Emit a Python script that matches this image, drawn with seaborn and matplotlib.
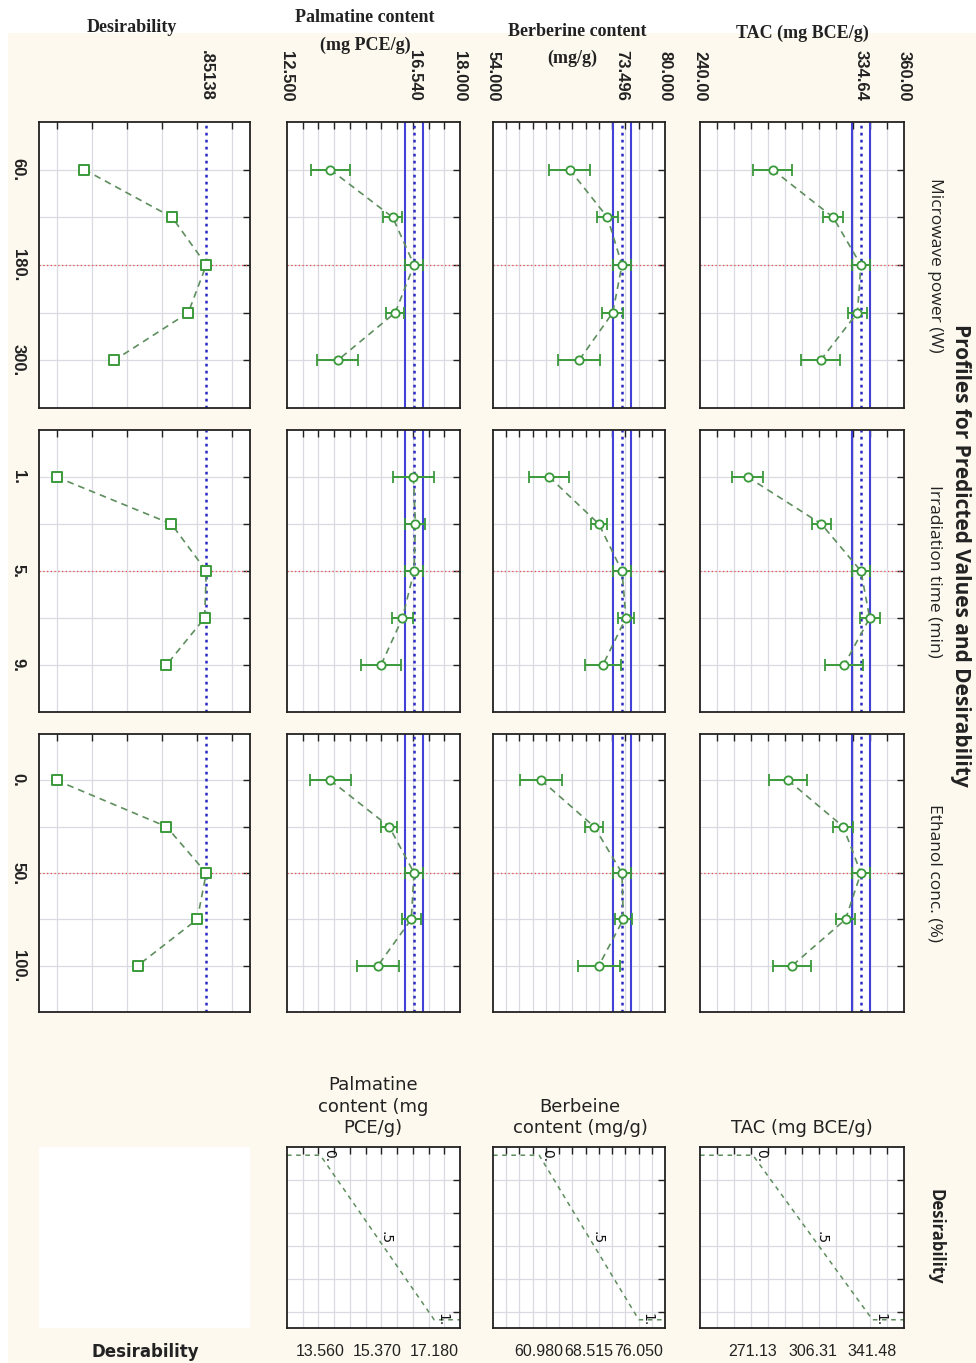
import numpy as np
import pandas as pd
import seaborn as sns
import matplotlib.pyplot as plt
from matplotlib.patches import Rectangle

# factor levels (the chart is rotated: factors run down, responses run across)
power_levels = [60, 120, 180, 240, 300]
time_levels = [1, 3, 5, 7, 9]
ethanol_levels = [0, 25, 50, 75, 100]
factor_names = ["Microwave power (W)", "Irradiation time (min)", "Ethanol conc. (%)"]
factor_ticklabels = [["60.", "180.", "300."], ["1.", "5.", "9."], ["0.", "50.", "100."]]
current_levels = [180, 5, 50]

# TAC (mg BCE/g)
tac_power = [282.7, 318.3, 334.64, 332.6, 310.9]
tac_power_err = [11.7, 6.0, 5.4, 5.6, 11.3]
tac_time = [268.0, 311.4, 334.64, 339.8, 324.8]
tac_time_err = [9.3, 5.8, 5.4, 5.8, 11.3]
tac_ethanol = [291.9, 324.2, 334.64, 325.6, 294.2]
tac_ethanol_err = [11.2, 5.9, 5.4, 5.4, 11.2]
tac_current = 334.64
tac_ci = [329.2, 340.0]

# Berberine content (mg/g)
ber_power = [65.6, 71.3, 73.496, 72.1, 67.0]
ber_power_err = [3.1, 1.55, 1.36, 1.6, 3.1]
ber_time = [62.5, 70.0, 73.496, 74.1, 70.6]
ber_time_err = [3.0, 1.2, 1.36, 1.2, 2.7]
ber_ethanol = [61.3, 69.3, 73.496, 73.7, 70.0]
ber_ethanol_err = [3.2, 1.4, 1.36, 1.3, 3.2]
ber_current = 73.496
ber_ci = [72.14, 74.86]

# Palmatine content (mg PCE/g)
pal_power = [13.88, 15.86, 16.54, 15.94, 14.11]
pal_power_err = [0.62, 0.30, 0.29, 0.28, 0.66]
pal_time = [16.52, 16.58, 16.54, 16.17, 15.49]
pal_time_err = [0.64, 0.32, 0.29, 0.33, 0.64]
pal_ethanol = [13.88, 15.75, 16.54, 16.45, 15.39]
pal_ethanol_err = [0.64, 0.26, 0.29, 0.30, 0.66]
pal_current = 16.54
pal_ci = [16.25, 16.83]

# overall desirability
des_power = [0.158, 0.657, 0.85138, 0.749, 0.328]
des_time = [0.0, 0.653, 0.85138, 0.842, 0.625]
des_ethanol = [0.0, 0.625, 0.85138, 0.80, 0.461]
des_current = 0.85138

# desirability functions: low / mid / high response values
tac_limits = [271.13, 306.31, 341.48]
ber_limits = [60.98, 68.515, 76.05]
pal_limits = [13.56, 15.37, 17.18]
tac_limit_labels = ["271.13", "306.31", "341.48"]
ber_limit_labels = ["60.980", "68.515", "76.050"]
pal_limit_labels = ["13.560", "15.370", "17.180"]

sns.set_style("white")
plt.rcParams['font.family'] = ['DejaVu Sans']

W, H = 976, 1363
CREAM = '#fdf9ee'
GREEN = '#3a9a3a'
LINEG = '#5e8e5e'
BLUE = '#4242d8'
BLUED = '#2a2ac0'
RED = '#f04a4a'
GRID = '#dadae2'


def rect(x0, y0, x1, y1):
    return [x0 / W, 1 - y1 / H, (x1 - x0) / W, (y1 - y0) / H]


def ftext(x, y, s, **kw):
    fig.text(x / W, 1 - y / H, s, **kw)


def style_axes(ax, xlim, xticks, ylim, yticks):
    ax.set_facecolor('white')
    ax.set_xlim(xlim)
    ax.set_ylim(ylim)
    ax.set_xticks(xticks)
    ax.set_yticks(yticks)
    ax.grid(True, color=GRID, lw=0.9)
    ax.set_axisbelow(True)
    ax.tick_params(direction='in', length=5, width=1, top=True, right=True,
                   labelbottom=False, labelleft=False, color='#222222')
    for s in ax.spines.values():
        s.set_color('#222222')
        s.set_linewidth(1.3)
    ax.set_xlabel('')
    ax.set_ylabel('')


fig = plt.figure(figsize=(W / 100, H / 100), dpi=100)
fig.patch.set_facecolor('white')
fig.add_artist(Rectangle((8 / W, 0), 1, 1 - 33 / H, transform=fig.transFigure,
                         facecolor=CREAM, edgecolor='none', zorder=-10))

rows = [(122, 408), (430, 712), (734, 1012)]
levels_all = [power_levels, time_levels, ethanol_levels]
steps = [60, 2, 25]

columns = [
    dict(x=(700, 904), lim=(240, 360), ticks=np.arange(250, 351, 10),
         vals=[tac_power, tac_time, tac_ethanol],
         errs=[tac_power_err, tac_time_err, tac_ethanol_err],
         cur=tac_current, ci=tac_ci,
         top=[(240, "240.00"), (tac_current, "334.64"), (360, "360.00")]),
    dict(x=(493, 665), lim=(54, 80), ticks=np.arange(56, 79, 2),
         vals=[ber_power, ber_time, ber_ethanol],
         errs=[ber_power_err, ber_time_err, ber_ethanol_err],
         cur=ber_current, ci=ber_ci,
         top=[(54, "54.000"), (ber_current, "73.496"), (80, "80.000")]),
    dict(x=(287, 460), lim=(12.5, 18), ticks=np.arange(13, 17.6, 0.5),
         vals=[pal_power, pal_time, pal_ethanol],
         errs=[pal_power_err, pal_time_err, pal_ethanol_err],
         cur=pal_current, ci=pal_ci,
         top=[(12.5, "12.500"), (pal_current, "16.540"), (18, "18.000")]),
    dict(x=(39, 250), lim=(-0.1, 1.1), ticks=[0, 0.2, 0.4, 0.6, 0.8, 1.0],
         vals=[des_power, des_time, des_ethanol],
         errs=[None, None, None],
         cur=des_current, ci=None,
         top=[(des_current, ".85138")]),
]

for ci_, col in enumerate(columns):
    for ri, (y0, y1) in enumerate(rows):
        ax = fig.add_axes(rect(col['x'][0], y0, col['x'][1], y1))
        lv = levels_all[ri]
        st = steps[ri]
        df = pd.DataFrame({'level': lv, 'value': col['vals'][ri]})
        ax.axhline(current_levels[ri], color=RED, lw=0.9, ls=(0, (1, 2)), zorder=2)
        if col['ci'] is not None:
            for c in col['ci']:
                ax.axvline(c, color=BLUE, lw=1.5, zorder=2)
        ax.axvline(col['cur'], color=BLUED, lw=1.8, ls=(0, (1.1, 1.7)), zorder=2)
        sns.lineplot(data=df, x='value', y='level', sort=False, estimator=None,
                     color=LINEG, lw=1.2, linestyle=(0, (4, 3)), ax=ax, zorder=3)
        if col['errs'][ri] is not None:
            ax.errorbar(df['value'], df['level'], xerr=col['errs'][ri], fmt='o', ms=6,
                        mfc='white', mec=GREEN, mew=1.3, ecolor=GREEN, elinewidth=1.4,
                        capsize=4, capthick=1.4, zorder=4)
        else:
            sns.scatterplot(data=df, x='value', y='level', marker='s', s=60,
                            facecolor='white', edgecolor=GREEN, linewidth=1.4,
                            ax=ax, zorder=4)
        style_axes(ax, col['lim'], col['ticks'], (lv[-1] + st, lv[0] - st), lv)

        if ri == 0:
            for v, s in col['top']:
                ax.annotate(s, xy=(v, 1), xycoords=('data', 'axes fraction'),
                            xytext=(0, 15), textcoords='offset points', rotation=-90,
                            ha='center', va='bottom', fontsize=12, fontweight='bold',
                            family='Liberation Sans', color='#222222')
        if ci_ == 3:
            for lvl, s in zip(lv[::2], factor_ticklabels[ri]):
                ax.annotate(s, xy=(0, lvl), xycoords=('axes fraction', 'data'),
                            xytext=(-15, 0), textcoords='offset points', rotation=-90,
                            ha='center', va='center', fontsize=12, fontweight='bold',
                            family='Liberation Sans', color='#222222')

# desirability function panels (bottom row)
bottom = [
    (columns[0], tac_limits, tac_limit_labels),
    (columns[1], ber_limits, ber_limit_labels),
    (columns[2], pal_limits, pal_limit_labels),
]
for col, lims, labs in bottom:
    ax = fig.add_axes(rect(col['x'][0], 1147, col['x'][1], 1328))
    lo, mid, hi = lims
    df = pd.DataFrame({'x': [col['lim'][0], lo, hi, col['lim'][1]], 'd': [0, 0, 1, 1]})
    sns.lineplot(data=df, x='x', y='d', sort=False, estimator=None, color=LINEG,
                 lw=1.1, linestyle=(0, (3, 3)), ax=ax)
    style_axes(ax, col['lim'], col['ticks'], (1.05, -0.05), [0.15, 0.35, 0.55, 0.75, 0.95])
    for v, d, s in [(lo, 0, "0."), (mid, 0.5, ".5"), (hi, 1, "1.")]:
        ax.annotate(s, xy=(v, d), xytext=(1, 0), textcoords='offset points',
                    rotation=-90, ha='left', va='center', fontsize=10, color='#111111')
    for v, s in zip(lims, labs):
        ax.annotate(s, xy=(v, 0), xycoords=('data', 'axes fraction'),
                    xytext=(0, -17), textcoords='offset points', ha='center', va='center',
                    fontsize=11.5, family='Liberation Sans', color='#222222')

# empty desirability cell
ax = fig.add_axes(rect(39, 1147, 250, 1328))
ax.set_facecolor('white')
ax.set_xticks([])
ax.set_yticks([])
for s in ax.spines.values():
    s.set_visible(False)

# column headers
hdr = dict(family='Liberation Serif', fontweight='bold', fontsize=13, ha='center',
           va='center', color='#222222')
ftext(802, 33, "TAC (mg BCE/g)", **hdr)
ftext(577, 31, "Berberine content", **hdr)
ftext(572, 58, "(mg/g)", **hdr)
ftext(365, 18, "Palmatine content", **hdr)
ftext(365, 45, "(mg PCE/g)", **hdr)
ftext(132, 27, "Desirability", **hdr)

# factor labels and title (rotated)
for (y0, y1), name in zip(rows, factor_names):
    ftext(935, (y0 + y1) / 2, name, rotation=-90, ha='center', va='center',
          fontsize=12.5, family='Open Sans', color='#222222')
ftext(961, 555, "Profiles for Predicted Values and Desirability", rotation=-90,
      ha='center', va='center', fontsize=15, fontweight='bold', family='Open Sans',
      color='#222222')
ftext(935, 1237, "Desirability", rotation=-90, ha='center', va='center', fontsize=12,
      fontweight='bold', family='Open Sans', color='#222222')

# bottom row headers
bh = dict(ha='center', va='bottom', fontsize=13, color='#222222', linespacing=1.25)
ftext(802, 1137, "TAC (mg BCE/g)", **bh)
ftext(580, 1137, "Berbeine\ncontent (mg/g)", **bh)
ftext(373, 1137, "Palmatine\ncontent (mg\nPCE/g)", **bh)
ftext(145, 1352, "Desirability", ha='center', va='center', fontsize=12,
      fontweight='bold', color='#222222')

fig.savefig('out.png', dpi=100)
